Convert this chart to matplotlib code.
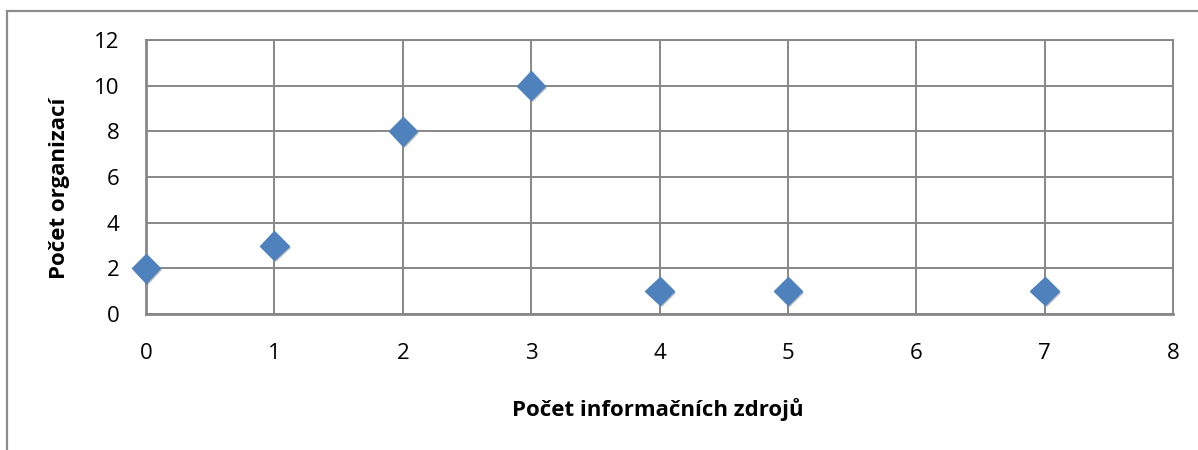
import matplotlib
matplotlib.use("Agg")
import matplotlib.pyplot as plt
from matplotlib.patches import Rectangle
import matplotlib.patheffects as pe

sources = [0, 1, 2, 3, 4, 5, 7]
organizations = [2, 3, 8, 10, 1, 1, 1]
x_ticks = [0, 1, 2, 3, 4, 5, 6, 7, 8]
y_ticks = [0, 2, 4, 6, 8, 10, 12]
x_label = "Počet informačních zdrojů"
y_label = "Počet organizací"

plt.rcParams['font.family'] = ['Open Sans', 'DejaVu Sans']

W, H = 1198, 450
fig = plt.figure(figsize=(W / 100, H / 100), dpi=100)
ax = fig.add_axes([146 / W, 1 - 314 / H, (1173 - 146) / W, (314 - 40) / H])

# outer chart border (partly cropped in the reference)
fig.patches.append(Rectangle((7 / W, -0.1), 1.2, 1 - 11 / H + 0.1,
                             transform=fig.transFigure, fill=False,
                             edgecolor='#8c8c8c', linewidth=1.6))

grid_c = '#878787'
ax.set_xlim(0, 8)
ax.set_ylim(0, 12)
ax.set_xticks(x_ticks)
ax.set_yticks(y_ticks)
ax.grid(True, color=grid_c, linewidth=1.4)
ax.set_axisbelow(True)
for s in ['top', 'right']:
    ax.spines[s].set_color(grid_c)
    ax.spines[s].set_linewidth(1.4)
for s in ['left', 'bottom']:
    ax.spines[s].set_color(grid_c)
    ax.spines[s].set_linewidth(2.0)
ax.tick_params(length=0, labelsize=16, colors='black', pad=0)
ax.tick_params(axis='x', pad=21)
ax.tick_params(axis='y', pad=19)

ax.plot(sources, organizations, linestyle='none', marker='D', markersize=14.5,
        color='#4F81BD', markeredgecolor='#4F81BD', clip_on=False, zorder=5,
        path_effects=[pe.SimplePatchShadow(offset=(1.5, -1.5), alpha=0.35,
                                           shadow_rgbFace='#555555'), pe.Normal()])

fig.text(658 / W, 1 - 410 / H, x_label, ha='center', va='center',
         fontsize=16, fontweight='bold')
fig.text(60 / W, 1 - 188 / H, y_label, ha='center', va='center',
         fontsize=16, fontweight='bold', rotation=90)

fig.savefig('out.png', dpi=100)
